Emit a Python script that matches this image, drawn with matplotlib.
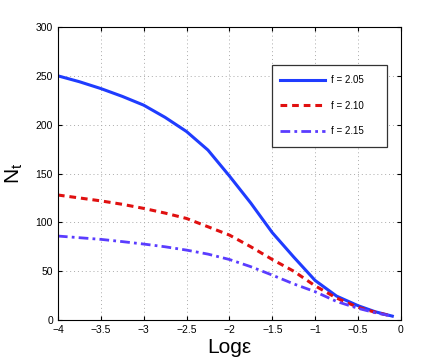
import numpy as np
from matplotlib import pyplot as plt
from matplotlib.patches import Rectangle

plt.rcParams['font.family'] = ['Liberation Sans', 'DejaVu Sans']

log_eps = [-4.0, -3.75, -3.5, -3.25, -3.0, -2.75, -2.5, -2.25, -2.0, -1.75, -1.5,
           -1.25, -1.0, -0.75, -0.5, -0.3, -0.1]
n_205 = [250, 244, 237, 229, 220, 207.5, 193, 174, 147.5, 119.7, 89.5,
         64.5, 40.5, 24.5, 14.7, 8.5, 4]
n_210 = [128, 125, 122, 118.5, 114.3, 109.5, 104, 95.5, 87, 75, 62,
         50, 35, 22.5, 13, 8, 4]
n_215 = [86, 84.3, 82.6, 80.3, 77.8, 75, 71.6, 67.5, 62, 54.6, 46,
         37, 29, 19, 12, 7.5, 4]
labels = ['f = 2.05', 'f = 2.10', 'f = 2.15']

fig = plt.figure(figsize=(4.42, 3.6), dpi=100)
ax = fig.add_axes([0.131, 0.111, 0.776, 0.814])

ax.plot(log_eps, n_205, color='#1f3cff', lw=2.2, ls='-', label=labels[0])
ax.plot(log_eps, n_210, color='#e01010', lw=2.2, ls=(0, (2.2, 1.6)), label=labels[1])
ax.plot(log_eps, n_215, color='#5a3cff', lw=2.0, ls=(0, (3.5, 1.5, 1, 1.5)), label=labels[2])

ax.set_xlim(-4, 0)
ax.set_ylim(0, 300)
ax.set_xticks(np.arange(-4, 0.01, 0.5))
ax.set_xticklabels(['\u22124', '\u22123.5', '\u22123', '\u22122.5', '\u22122',
                    '\u22121.5', '\u22121', '\u22120.5', '0'])
ax.set_yticks(np.arange(0, 301, 50))
ax.tick_params(direction='in', top=True, right=True, labelsize=7.5, length=3)
ax.grid(True, ls=(0, (1, 3)), color='#aaaaaa', lw=0.7)
for s in ax.spines.values():
    s.set_linewidth(0.8)

ax.set_xlabel('Log\u03b5', fontsize=15, labelpad=2)
ax.set_ylabel('N$_\\mathregular{t}$', fontsize=15, labelpad=8)

# legend box drawn separately (MATLAB style, wide right margin)
ax.add_patch(Rectangle((0.6245, 0.590), 0.3355, 0.280, transform=ax.transAxes,
                       facecolor='white', edgecolor='#333333', lw=0.9, zorder=4))
leg = ax.legend(loc='upper left', bbox_to_anchor=(280 / 442, 1 - 75 / 360),
                bbox_transform=fig.transFigure, fontsize=7, frameon=False,
                handlelength=4.6, labelspacing=1.6, borderpad=0,
                borderaxespad=0, handletextpad=0.6)
leg.set_zorder(5)

fig.savefig('out.png', dpi=100)
